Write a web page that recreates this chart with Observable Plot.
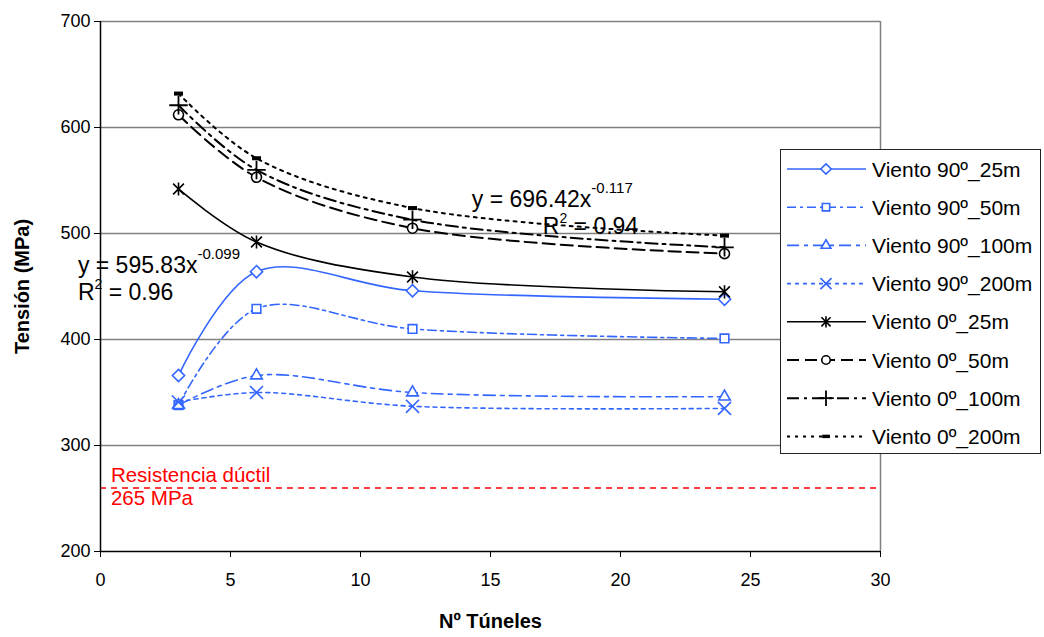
<!DOCTYPE html>
<html>
<head>
<meta charset="utf-8">
<script src="https://cdn.jsdelivr.net/npm/d3@7"></script>
<script src="https://cdn.jsdelivr.net/npm/@observablehq/plot@0.6"></script>
<style>
  html, body { margin: 0; padding: 0; background: #fff; }
  #wrap { position: relative; width: 1044px; height: 637px; font-family: "Liberation Sans", Arial, sans-serif; }
  #legend { position: absolute; left: 780px; top: 149px; width: 261px; height: 305px; background: #fff; border: 1px solid #222; box-sizing: border-box; }
</style>
</head>
<body>
<div id="wrap"></div>
<script>
// ---- data ----
const tunnels = [3, 6, 12, 24];
const seriesNames = ["Viento 90º_25m", "Viento 90º_50m", "Viento 90º_100m", "Viento 90º_200m",
                     "Viento 0º_25m", "Viento 0º_50m", "Viento 0º_100m", "Viento 0º_200m"];
const v90_25  = [366, 464, 446, 438];
const v90_50  = [338, 429, 410, 401];
const v90_100 = [338, 366, 350, 346];
const v90_200 = [341, 350, 337, 335];
const v0_25   = [542, 492, 459, 445];
const v0_50   = [612, 553, 505, 481];
const v0_100  = [621, 560, 513, 487];
const v0_200  = [632, 571, 524, 498];
const xTicks = [0, 5, 10, 15, 20, 25, 30];
const yTicks = [200, 300, 400, 500, 600, 700];
const ductil = 260;
const ductilLabel = ["Resistencia dúctil", "265 MPa"];
const fitLeft = {x: -0.85, y: 462, eq: "y = 595.83x", exp: "-0.099", r2: "= 0.96"};
const fitRight = {x: 14.3, y: 525, eq: "y = 696.42x", exp: "-0.117", r2: "= 0.94"};

const values = [v90_25, v90_50, v90_100, v90_200, v0_25, v0_50, v0_100, v0_200];

// ---- styles ----
const blue = "#3366ff";
const asteriskX = { draw(ctx, size) { const r = Math.sqrt(size / Math.PI); const a = r * 0.9;
  ctx.moveTo(-a, -a); ctx.lineTo(a, a); ctx.moveTo(-a, a); ctx.lineTo(a, -a); ctx.moveTo(0, -r*1.1); ctx.lineTo(0, r*1.1); } };
const dashSym = { draw(ctx, size) { const r = Math.sqrt(size / Math.PI); ctx.rect(-r, -r*0.45, r*2, r*0.9); } };
const styles = [
  {color: blue, dash: null, sym: "diamond2", r: 5.5, fill: "white", w: 1.6, sw: 1.6},
  {color: blue, dash: "9,4,3,4", sym: "square2", r: 5.5, fill: "white", w: 1.6, sw: 1.6},
  {color: blue, dash: "12,5,4,5", sym: "triangle2", r: 5.5, fill: "white", w: 1.6, sw: 1.6},
  {color: blue, dash: "4,4", sym: "times", r: 6, fill: "none", w: 1.6, sw: 1.6},
  {color: "#000", dash: null, sym: asteriskX, r: 6, fill: "none", w: 1.6, sw: 1.6},
  {color: "#000", dash: "12,6", sym: "circle", r: 5, fill: "white", w: 2, sw: 1.6},
  {color: "#000", dash: "12,5,3,5", sym: "plus", r: 6, fill: "none", w: 2, sw: 1.8},
  {color: "#000", dash: "3,5", sym: dashSym, r: 4.5, fill: "#000", w: 2, sw: 0}
];

const rows = seriesNames.map((name, i) => tunnels.map((t, j) => ({series: name, idx: i, x: t, y: values[i][j]})));

const seriesMarks = rows.flatMap((data, i) => {
  const s = styles[i];
  return [
    Plot.line(data, {x: "x", y: "y", curve: "catmull-rom", stroke: s.color, strokeWidth: s.w, strokeDasharray: s.dash || undefined}),
    Plot.dot(data, {x: "x", y: "y", symbol: () => s.sym, r: s.r, stroke: s.sw ? s.color : "none", fill: s.fill, strokeWidth: s.sw || 1})
  ];
});

const plot = Plot.plot({
  width: 1044, height: 637,
  marginLeft: 100, marginRight: 164, marginTop: 21, marginBottom: 86,
  x: {domain: [0, 30]},
  y: {domain: [200, 700]},
  style: {fontFamily: "'Liberation Sans', Arial, sans-serif", fontSize: "18px", color: "#000", background: "#fff", overflow: "visible"},
  marks: [
    Plot.gridY(yTicks.filter(d => d > 200), {stroke: "#808080", strokeOpacity: 1, strokeWidth: 1.5}),
    Plot.ruleX([30], {stroke: "#808080", strokeWidth: 1.5}),
    Plot.ruleY([ductil], {stroke: "#ff0000", strokeWidth: 1.5, strokeDasharray: "6,5"}),
    Plot.text([ductilLabel[0]], {x: 0.4, y: ductil, text: d => d, textAnchor: "start", fill: "#ff0000", fontSize: 20.5, dy: -12}),
    Plot.text([ductilLabel[1]], {x: 0.4, y: ductil, text: d => d, textAnchor: "start", fill: "#ff0000", fontSize: 20.5, dy: 11}),
    ...seriesMarks,
    Plot.axisX(xTicks, {tickSize: 6, tickPadding: 16, label: null, fontSize: 18}),
    Plot.axisY(yTicks, {tickSize: 6, tickPadding: 4, label: null, fontSize: 18}),
    Plot.ruleX([0], {stroke: "#000", strokeWidth: 1.5}),
    Plot.ruleY([200], {stroke: "#000", strokeWidth: 1.5}),
    Plot.text(["Nº Túneles"], {frameAnchor: "bottom", dy: 76, text: d => d, fontWeight: "bold", fontSize: 20}),
    Plot.text(["Tensión (MPa)"], {frameAnchor: "left", dx: -78, rotate: -90, textAnchor: "middle", text: d => d, fontWeight: "bold", fontSize: 20})
  ]
});

document.getElementById("wrap").appendChild(plot);

// trend-line equation annotations positioned with the plot's scales
const sx = plot.scale("x"), sy = plot.scale("y");
const svg = d3.select(plot);
for (const f of [fitLeft, fitRight]) {
  const px = sx.apply(f.x), py = sy.apply(f.y);
  const g = svg.append("g").attr("font-size", 23).attr("fill", "#000").attr("text-anchor", "start");
  const t1 = g.append("text").attr("x", px).attr("y", py);
  t1.append("tspan").text(f.eq);
  t1.append("tspan").attr("dy", -14).attr("font-size", 15).text(f.exp);
  const rx = f === fitLeft ? px : px + 71;
  const t2 = g.append("text").attr("x", rx).attr("y", py + 27);
  t2.append("tspan").text("R");
  t2.append("tspan").attr("dy", -11).attr("font-size", 14).text("2");
  t2.append("tspan").attr("dy", 11).text(" " + f.r2);
}

// legend
const leg = d3.select("#wrap").append("div").attr("id", "legend");
const lsvg = leg.append("svg").attr("width", 259).attr("height", 303);
seriesNames.forEach((name, i) => {
  const s = styles[i];
  const cy = 19 + i * 38.2;
  lsvg.append("line").attr("x1", 6).attr("x2", 85).attr("y1", cy).attr("y2", cy)
    .attr("stroke", s.color).attr("stroke-width", s.w).attr("stroke-dasharray", s.dash);
  const symType = typeof s.sym === "string" ? {diamond2: d3.symbolDiamond2, square2: d3.symbolSquare2, triangle2: d3.symbolTriangle2, times: d3.symbolTimes, circle: d3.symbolCircle, plus: d3.symbolPlus}[s.sym] : s.sym;
  lsvg.append("path").attr("d", d3.symbol(symType, Math.PI * (s.r * 0.85) ** 2)()).attr("transform", `translate(45,${cy})`)
    .attr("stroke", s.sw ? s.color : "none").attr("fill", s.fill).attr("stroke-width", s.sw || 1);
  lsvg.append("text").attr("x", 91).attr("y", cy).attr("dy", "0.36em").attr("font-size", 21).text(name);
});
</script>
</body>
</html>
